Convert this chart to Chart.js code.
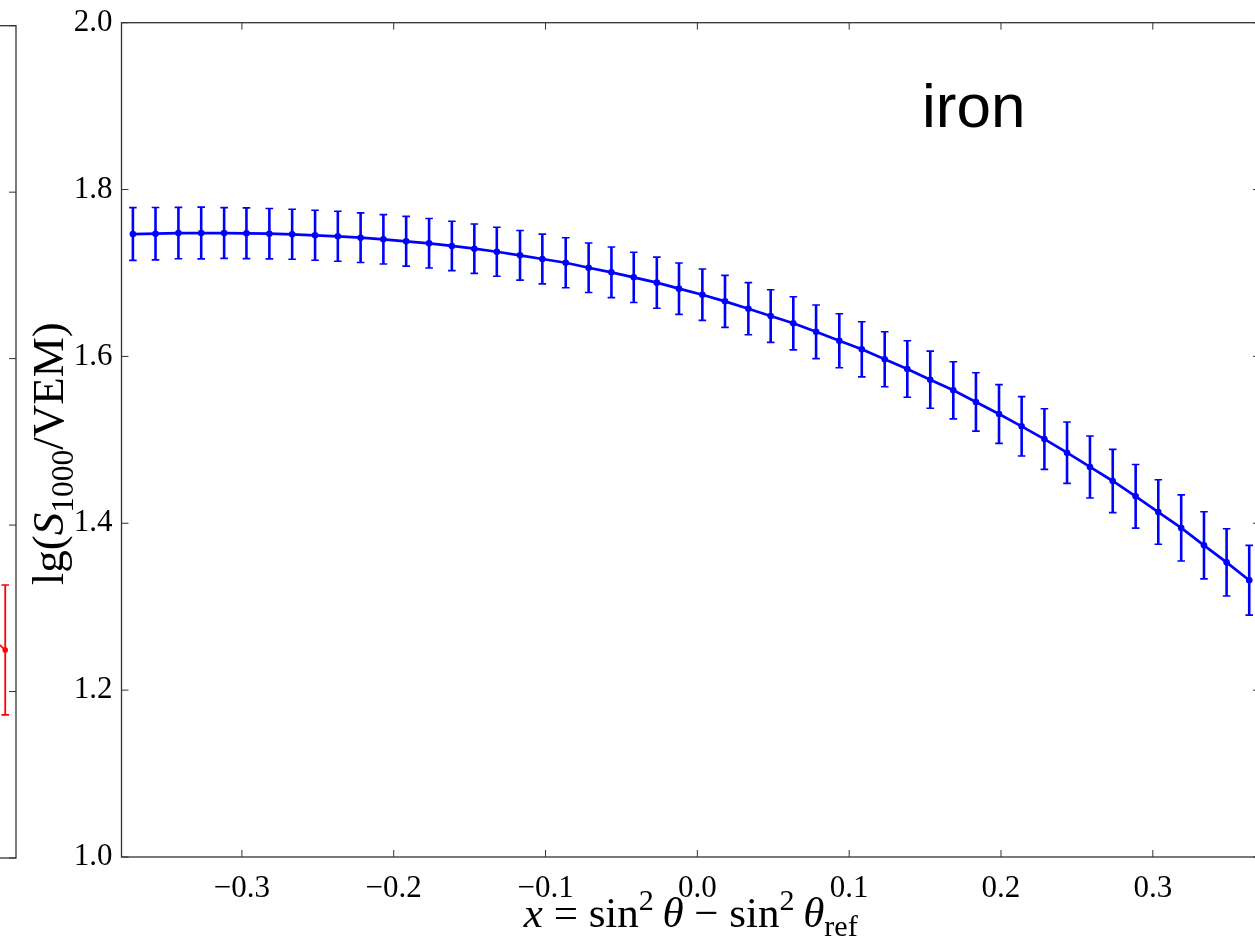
<!DOCTYPE html>
<html>
<head>
<meta charset="utf-8">
<script src="https://cdn.jsdelivr.net/npm/chart.js@4.4.1/dist/chart.umd.min.js"></script>
<style>
  html, body { margin: 0; padding: 0; overflow: hidden; background: #fff; }
  #wrap { position: relative; width: 1255px; height: 952px; overflow: hidden; }
  #left { position: absolute; left: -1130px; top: 0; }
  #main { position: absolute; left: 0; top: 0; }
</style>
</head>
<body>
<div id="wrap">
  <canvas id="left" width="1150" height="952"></canvas>
  <canvas id="main" width="1265" height="952"></canvas>
</div>
<script>
// iron panel, values
const ironX = [
  -0.3718, -0.3569, -0.3418, -0.3268, -0.3117, -0.2970, -0.2819, -0.2669, -0.2518, -0.2368,
  -0.2218, -0.2068, -0.1918, -0.1767, -0.1617, -0.1469, -0.1321, -0.1168, -0.1021, -0.0867,
  -0.0716, -0.0566, -0.0419, -0.0267, -0.0121, 0.0033, 0.0182, 0.0336, 0.0483, 0.0632,
  0.0782, 0.0935, 0.1083, 0.1234, 0.1383, 0.1534, 0.1686, 0.1835, 0.1987, 0.2136,
  0.2286, 0.2435, 0.2586, 0.2736, 0.2887, 0.3036, 0.3187, 0.3337, 0.3486, 0.3635
];
const ironY = [
  1.7467, 1.7471, 1.7479, 1.7479, 1.7479, 1.7476, 1.7471, 1.7464, 1.7452, 1.7440,
  1.7423, 1.7404, 1.7380, 1.7356, 1.7324, 1.7291, 1.7255, 1.7212, 1.7168, 1.7123,
  1.7063, 1.7008, 1.6948, 1.6884, 1.6812, 1.6740, 1.6660, 1.6572, 1.6484, 1.6397,
  1.6295, 1.6188, 1.6085, 1.5966, 1.5849, 1.5721, 1.5594, 1.5454, 1.5310, 1.5162,
  1.5009, 1.4846, 1.4675, 1.4507, 1.4323, 1.4135, 1.3944, 1.3736, 1.3532, 1.3317
];
const ironErr = [
  0.0316, 0.0314, 0.0308, 0.0310, 0.0304, 0.0304, 0.0302, 0.0300, 0.0300, 0.0300,
  0.0297, 0.0296, 0.0298, 0.0297, 0.0296, 0.0296, 0.0294, 0.0298, 0.0298, 0.0300,
  0.0297, 0.0303, 0.0301, 0.0306, 0.0308, 0.0308, 0.0312, 0.0313, 0.0316, 0.0318,
  0.0321, 0.0324, 0.0330, 0.0330, 0.0338, 0.0342, 0.0343, 0.0350, 0.0352, 0.0356,
  0.0363, 0.0368, 0.0372, 0.0379, 0.0381, 0.0387, 0.0396, 0.0402, 0.0403, 0.0418
];

// what is left of the neighbouring panel (only its last point shows)
const protonX = [0.3486, 0.3635];
const protonY = [1.274, 1.250];
const protonErr = [0.076, 0.078];

const xTicks = [-0.3, -0.2, -0.1, 0.0, 0.1, 0.2, 0.3];
const yTicks = [1.0, 1.2, 1.4, 1.6, 1.8, 2.0];
const xRange = [-0.3793, 0.3706];
const yRange = [1.0, 2.0];

const panelName = "iron";
const xTitle = [["x", "i"], [" = ", "r"], ["sin", "r"], ["2", "sup"], ["\u2009", "r"], ["\u03b8", "i"],
  [" \u2212 ", "r"], ["sin", "r"], ["2", "sup"], ["\u2009", "r"], ["\u03b8", "i"], ["ref", "sub"]];
const yTitle = [["lg(", "r"], ["S", "i"], ["1000", "sub"], ["/VEM)", "r"]];

const serif = '"Liberation Serif", "DejaVu Serif", serif';

function fmt(v) {
  if (Math.abs(v) < 1e-9) return "0.0";
  return v < 0 ? "\u2212" + Math.abs(v).toFixed(1) : v.toFixed(1);
}

function drawRich(ctx, parts, cx, y, size) {
  const spec = (p) => {
    const small = p[1] === "sub" || p[1] === "sup";
    const s = small ? size * 0.7 : size;
    const st = p[1] === "i" ? "italic " : "";
    let dy = 0;
    if (p[1] === "sub") dy = size * 0.22;
    if (p[1] === "sup") dy = -size * 0.4;
    return { font: st + s + "px " + serif, dy: dy };
  };
  let total = 0;
  parts.forEach((p) => {
    ctx.font = spec(p).font;
    total += ctx.measureText(p[0]).width;
  });
  let x = cx - total / 2;
  parts.forEach((p) => {
    const s = spec(p);
    ctx.font = s.font;
    ctx.fillText(p[0], x, y + s.dy);
    x += ctx.measureText(p[0]).width;
  });
}

// error bars with caps, drawn under the line
const errorBars = {
  id: "errorBars",
  beforeDatasetsDraw(chart) {
    const ctx = chart.ctx;
    const yScale = chart.scales.y;
    chart.data.datasets.forEach((ds, i) => {
      const meta = chart.getDatasetMeta(i);
      ctx.save();
      ctx.strokeStyle = ds.borderColor;
      meta.data.forEach((pt, j) => {
        const e = ds.errors[j];
        const top = yScale.getPixelForValue(ds.data[j].y + e);
        const bot = yScale.getPixelForValue(ds.data[j].y - e);
        ctx.lineWidth = ds.barWidth;
        ctx.beginPath();
        ctx.moveTo(pt.x, top);
        ctx.lineTo(pt.x, bot);
        ctx.stroke();
        ctx.lineWidth = 1.6;
        ctx.beginPath();
        ctx.moveTo(pt.x - 3.8, top);
        ctx.lineTo(pt.x + 3.8, top);
        ctx.moveTo(pt.x - 3.8, bot);
        ctx.lineTo(pt.x + 3.8, bot);
        ctx.stroke();
      });
      ctx.restore();
    });
  }
};

// box round the axes and inward ticks on all four sides
const frameTicks = {
  id: "frameTicks",
  afterDatasetsDraw(chart) {
    const { ctx, chartArea: a, scales } = chart;
    ctx.save();
    ctx.strokeStyle = "#333";
    ctx.lineWidth = 1.3;
    ctx.strokeRect(a.left, a.top, a.right - a.left, a.bottom - a.top);
    ctx.lineWidth = 1;
    ctx.beginPath();
    xTicks.forEach((v) => {
      const px = scales.x.getPixelForValue(v);
      ctx.moveTo(px, a.bottom);
      ctx.lineTo(px, a.bottom - 7);
      ctx.moveTo(px, a.top);
      ctx.lineTo(px, a.top + 7);
    });
    yTicks.forEach((v) => {
      const py = scales.y.getPixelForValue(v);
      ctx.moveTo(a.left, py);
      ctx.lineTo(a.left + 7, py);
      ctx.moveTo(a.right, py);
      ctx.lineTo(a.right - 7, py);
    });
    ctx.stroke();
    ctx.restore();
  }
};

const titles = {
  id: "titles",
  afterDraw(chart) {
    const ctx = chart.ctx;
    const a = chart.chartArea;
    ctx.save();
    ctx.fillStyle = "#000";
    ctx.textBaseline = "alphabetic";
    drawRich(ctx, xTitle, (a.left + a.right) / 2, 927, 43);
    ctx.translate(63, (a.top + a.bottom) / 2 + 14);
    ctx.rotate(-Math.PI / 2);
    drawRich(ctx, yTitle, 0, 0, 45);
    ctx.restore();
    ctx.save();
    ctx.fillStyle = "#000";
    ctx.font = '62px "Liberation Sans", Arial, sans-serif';
    ctx.fillText(panelName, 922, 127);
    ctx.restore();
  }
};

function noPad(s) {
  s.paddingTop = 0;
  s.paddingBottom = 0;
  s.paddingLeft = 0;
  s.paddingRight = 0;
}

// neighbour panel: axes hidden, only the right edge is on screen
new Chart(document.getElementById("left"), {
  type: "line",
  data: {
    datasets: [{
      data: protonX.map((x, i) => ({ x: x, y: protonY[i] })),
      errors: protonErr,
      barWidth: 1.8,
      borderColor: "#ff0000",
      backgroundColor: "#ff0000",
      borderWidth: 1.8,
      pointRadius: 2.8,
      pointBorderWidth: 0,
      tension: 0
    }]
  },
  options: {
    responsive: false,
    animation: false,
    layout: { autoPadding: false, padding: { left: 7.3, right: 4, top: 25.7, bottom: 94 } },
    plugins: { legend: { display: false }, tooltip: { enabled: false } },
    scales: {
      x: {
        type: "linear", min: xRange[0], max: xRange[1],
        ticks: { display: false }, grid: { display: false, drawTicks: false }, border: { display: false },
        afterFit: (s) => { s.height = 0; noPad(s); }
      },
      y: {
        type: "linear", min: yRange[0], max: yRange[1],
        ticks: { display: false }, grid: { display: false, drawTicks: false }, border: { display: false },
        afterFit: (s) => { s.width = 0; noPad(s); }
      }
    }
  },
  plugins: [errorBars, frameTicks]
});

new Chart(document.getElementById("main"), {
  type: "line",
  data: {
    datasets: [{
      data: ironX.map((x, i) => ({ x: x, y: ironY[i] })),
      errors: ironErr,
      barWidth: 2.6,
      borderColor: "#0000ff",
      backgroundColor: "#0000ff",
      borderWidth: 2.7,
      pointRadius: 3.3,
      pointBorderWidth: 0,
      tension: 0
    }]
  },
  options: {
    responsive: false,
    animation: false,
    layout: { autoPadding: false, padding: { left: 0, right: 5, top: 22.7, bottom: 0 } },
    plugins: { legend: { display: false }, tooltip: { enabled: false } },
    scales: {
      x: {
        type: "linear", min: xRange[0], max: xRange[1],
        afterBuildTicks: (s) => { s.ticks = xTicks.map((v) => ({ value: v })); },
        ticks: { color: "#000", font: { family: serif, size: 31 }, padding: 13, maxRotation: 0, autoSkip: false, callback: (v) => fmt(v) },
        grid: { display: false, drawTicks: false }, border: { display: false },
        afterFit: (s) => { s.height = 95; noPad(s); }
      },
      y: {
        type: "linear", min: yRange[0], max: yRange[1],
        afterBuildTicks: (s) => { s.ticks = yTicks.map((v) => ({ value: v })); },
        ticks: { color: "#000", font: { family: serif, size: 31 }, padding: 9, autoSkip: false, callback: (v) => fmt(v) },
        grid: { display: false, drawTicks: false }, border: { display: false },
        afterFit: (s) => { s.width = 121.5; noPad(s); }
      }
    }
  },
  plugins: [errorBars, frameTicks, titles]
});
</script>
</body>
</html>
